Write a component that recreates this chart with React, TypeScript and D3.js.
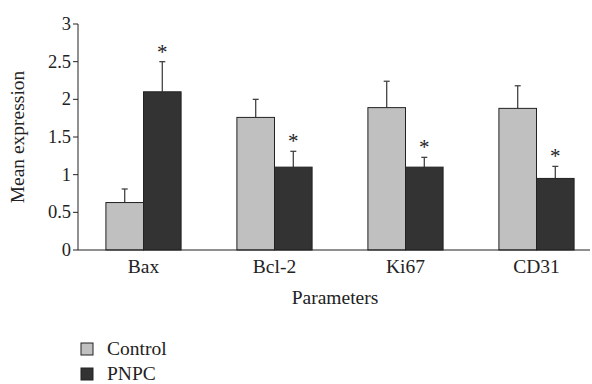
import React from 'react';
import * as d3 from 'd3';

const categories = ['Bax', 'Bcl-2', 'Ki67', 'CD31'];
const seriesNames = ['Control', 'PNPC'];
const controlValues = [0.63, 1.76, 1.89, 1.88];
const controlErrors = [0.18, 0.24, 0.35, 0.3];
const pnpcValues = [2.1, 1.1, 1.1, 0.95];
const pnpcErrors = [0.4, 0.21, 0.13, 0.16];
const significant = [true, true, true, true];
const yTicks = [0, 0.5, 1, 1.5, 2, 2.5, 3];

const colors = ['#c0c0c0', '#333333'];
const fontFamily = '"Liberation Serif", "DejaVu Serif", serif';

const App = () => {
  const width = 592;
  const height = 384;
  const margin = { left: 78, top: 24, right: 2 };
  const plotBottom = 250;

  const x = d3.scaleBand<string>().domain(categories).range([margin.left, margin.left + 4 * 131]);
  const y = d3.scaleLinear().domain([0, 3]).range([plotBottom, margin.top]);
  const barW = 37.6;

  const series = [
    { values: controlValues, errors: controlErrors },
    { values: pnpcValues, errors: pnpcErrors },
  ];

  return (
    <svg width={width} height={height} style={{ position: 'absolute', left: 0, top: 0, background: '#fff' }}
      fontFamily={fontFamily}>
      {/* y axis */}
      <line x1={margin.left} x2={margin.left} y1={y(3)} y2={plotBottom} stroke="#222" strokeWidth={1} />
      {yTicks.map(t => (
        <g key={t}>
          <line x1={margin.left - 5} x2={margin.left} y1={y(t)} y2={y(t)} stroke="#222" />
          <text x={margin.left - 7} y={y(t)} dy="0.33em" textAnchor="end" fontSize={18.5} fill="#222">{t}</text>
        </g>
      ))}
      <text transform={`translate(24,${(y(3) + plotBottom) / 2}) rotate(-90)`} textAnchor="middle" fontSize={19.5} fill="#222">Mean expression</text>

      {/* bars */}
      {categories.map((c, i) => {
        const cx = (x(c) as number) + x.bandwidth() / 2;
        return (
          <g key={c}>
            {series.map((s, k) => {
              const bx = k === 0 ? cx - barW : cx;
              const mid = bx + barW / 2;
              const top = y(s.values[i]);
              const errTop = y(s.values[i] + s.errors[i]);
              return (
                <g key={k}>
                  <line x1={mid} x2={mid} y1={top} y2={errTop} stroke="#444" strokeWidth={1.3} />
                  <line x1={mid - 3} x2={mid + 3} y1={errTop} y2={errTop} stroke="#444" strokeWidth={1.3} />
                  <rect x={bx} y={top} width={barW} height={plotBottom - top} fill={colors[k]} stroke="#222" strokeWidth={1} />
                  {k === 1 && significant[i] && (
                    <text x={mid} y={errTop - 3} textAnchor="middle" fontSize={21} fill="#222">*</text>
                  )}
                </g>
              );
            })}
            <text x={cx} y={273} textAnchor="middle" fontSize={19.5} fill="#222">{c}</text>
          </g>
        );
      })}
      <line x1={margin.left} x2={width - margin.right} y1={plotBottom} y2={plotBottom} stroke="#222" strokeWidth={1.2} />

      <text x={(margin.left + width) / 2} y={304} textAnchor="middle" fontSize={19.5} fill="#222">Parameters</text>

      {/* legend */}
      {seriesNames.map((n, k) => (
        <g key={n} transform={`translate(81,${343 + k * 25})`}>
          <rect x={0} y={0} width={12} height={12} fill={colors[k]} stroke="#222" strokeWidth={1} />
          <text x={26} y={12} fontSize={19.5} fill="#222">{n}</text>
        </g>
      ))}
    </svg>
  );
};

export default App;
